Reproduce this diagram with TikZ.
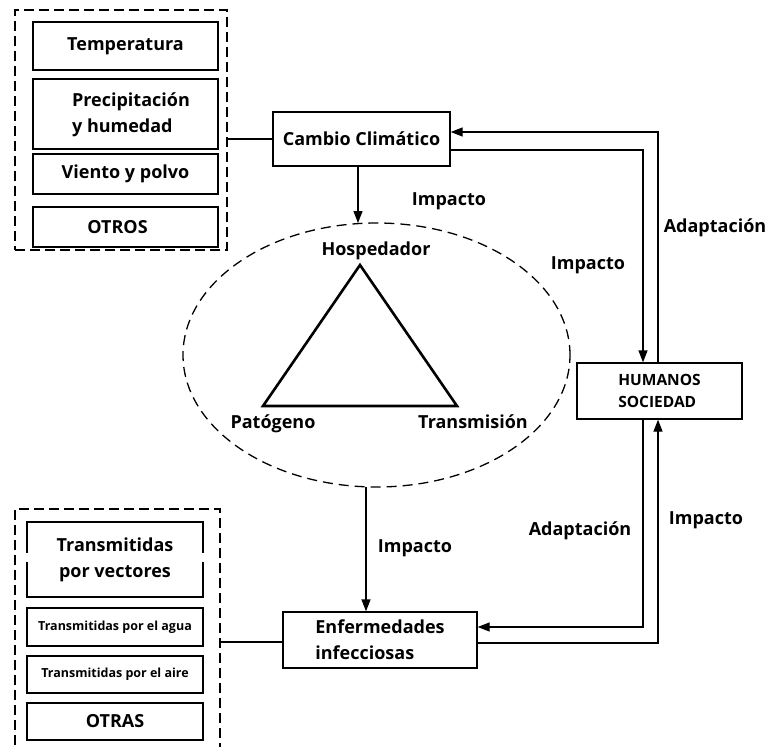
\documentclass[tikz,border=0pt]{standalone}
\usepackage{fontspec}
\setmainfont{Open Sans}
\usetikzlibrary{arrows.meta,shapes.geometric}
\begin{document}
\begin{tikzpicture}[x=1pt,y=-1pt,
  bigfont/.style={font=\fontsize{18}{26}\selectfont\bfseries},
  midfont/.style={font=\fontsize{15.5}{22}\selectfont\bfseries},
  smallfont/.style={font=\fontsize{12.5}{15}\selectfont\bfseries},
  box/.style={draw, line width=1.3pt, rectangle, inner sep=0pt, align=center},
  dbox/.style={draw, dash pattern=on 10pt off 5pt, line width=1.3pt, rectangle, inner sep=0pt},
  conn/.style={line width=1.3pt},
  arr/.style={line width=1.3pt, -{Triangle[length=12pt,width=9pt]}},
  lbl/.style={bigfont, inner sep=0pt},
  tri/.style={line width=2.6pt, line join=miter}
]
\useasboundingbox (0,0) rectangle (770,746);
\fill[white] (0,0) rectangle (770,746);

% top-left group
\node[dbox, minimum width=212pt, minimum height=240pt] (dtop) at (121,130) {};
\node[box, bigfont, minimum width=185pt, minimum height=48pt] (temp) at (125.5,46) {Temperatura};
\node[box, minimum width=185pt, minimum height=70pt] (prec) at (125.5,114) {};
\node[bigfont, align=left, inner sep=0pt] (prect) at (131,115) {Precipitación\\y humedad};
\node[box, bigfont, minimum width=185pt, minimum height=40pt] (viento) at (125.5,174) {Viento y polvo};
\node[box, bigfont, minimum width=185pt, minimum height=40pt] (otros) at (125.5,227) {\hspace*{-16pt}OTROS};

% main boxes
\node[box, bigfont, minimum width=177pt, minimum height=54pt] (cambio) at (361.5,139) {Cambio Climático};
\node[box, midfont, align=left, minimum width=165pt, minimum height=56pt] (hum) at (659.5,391) {HUMANOS\\SOCIEDAD};
\node[box, bigfont, align=left, minimum width=194pt, minimum height=56pt] (enf) at (380,640) {Enfermedades\\infecciosas};

% ellipse with triangle
\node[draw, ellipse, dash pattern=on 10pt off 6pt, line width=1.3pt, minimum width=387pt, minimum height=264pt, inner sep=0pt] (ell) at (376.5,355) {};
\coordinate (tA) at (360,265);
\coordinate (tB) at (263,406);
\coordinate (tC) at (457,406);
\draw[tri] (tA) -- (tB) -- (tC) -- cycle;
\node[lbl] (hosp) at (376,251) {Hospedador};
\node[lbl] (pat) at (273,424) {Patógeno};
\node[lbl] (trans) at (473,422) {Transmisión};

% bottom-left group
\draw[dash pattern=on 10pt off 5pt, line width=1.3pt] (15,760) -- (15,509) -- (220,509) -- (220,760);
\coordinate (dbot) at (220,642);
\node[bigfont, align=center, inner sep=0pt] (vect) at (115,560) {Transmitidas\\por vectores};
\coordinate (v1) at (27,553);
\coordinate (v2) at (27,522);
\coordinate (v3) at (203,522);
\coordinate (v4) at (203,553);
\coordinate (v5) at (27,562);
\coordinate (v6) at (27,597);
\coordinate (v7) at (203,597);
\coordinate (v8) at (203,562);
\draw[conn] (v1) -- (v2) -- (v3) -- (v4);
\draw[conn] (v5) -- (v6) -- (v7) -- (v8);
\node[box, smallfont, minimum width=176pt, minimum height=38pt] (agua) at (115,627) {Transmitidas por el agua};
\node[box, smallfont, minimum width=176pt, minimum height=37pt] (aire) at (115,674.5) {Transmitidas por el aire};
\node[box, bigfont, minimum width=176pt, minimum height=37pt] (otras) at (115,721.5) {OTRAS};

% connectors
\coordinate (c1) at (358,223);
\coordinate (h1) at (658,132);
\coordinate (h2) at (643,150);
\coordinate (h3) at (643,627);
\coordinate (h4) at (658,643);
\draw[conn] (dtop.east |- cambio.west) -- (cambio.west);
\draw[arr] (cambio.south -| c1) -- (c1);
\draw[arr] (hum.north -| h1) -- (h1) -- (cambio.east |- h1);
\draw[arr] (cambio.east |- h2) -- (h2) -- (hum.north -| h2);
\draw[arr] (hum.south -| h3) -- (h3) -- (enf.east |- h3);
\draw[arr] (enf.east |- h4) -- (h4) -- (hum.south -| h4);
\coordinate (e1) at (366,487);
\draw[arr] (e1) -- (enf.north -| e1);
\draw[conn] (enf.west |- dbot) -- (dbot);

% labels
\node[lbl] (l1) at (449,201) {Impacto};
\node[lbl] (l2) at (588,265) {Impacto};
\node[lbl] (l3) at (715,228) {Adaptación};
\node[lbl] (l4) at (415,548) {Impacto};
\node[lbl] (l5) at (580,531) {Adaptación};
\node[lbl] (l6) at (706,520) {Impacto};
\end{tikzpicture}
\end{document}
